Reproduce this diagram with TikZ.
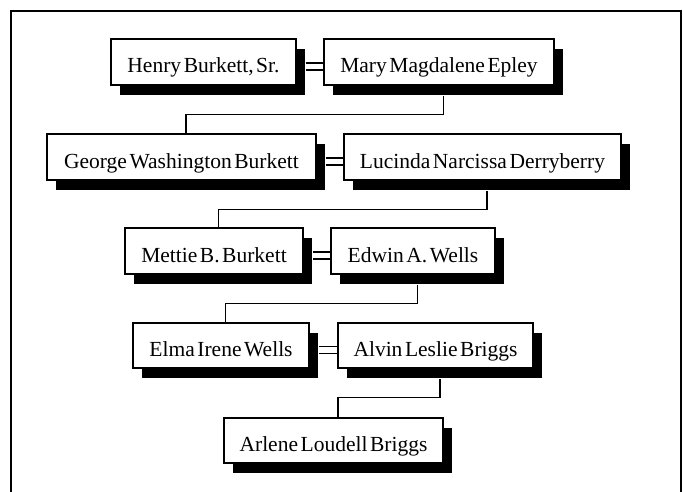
\documentclass[tikz,border=0pt]{standalone}
\usepackage{fontspec}
\setmainfont{Liberation Serif}
\usetikzlibrary{calc,shadows}
\newcommand{\boxfont}{\fontsize{21.5}{26}\selectfont\spaceskip=0.12em\relax}
\begin{document}
\begin{tikzpicture}[x=1pt,y=-1pt,
  person/.style={draw=black, line width=1.6pt, fill=white, minimum height=46pt,
    inner sep=0pt, text height=24pt, text depth=2pt, font=\boxfont,
    general shadow={fill=black, shadow xshift=9pt, shadow yshift=-10pt}},
  marriage/.style={line width=1.6pt, double=white, double distance=5.2pt},
  desc/.style={line width=1.3pt}]
\useasboundingbox (0,0) rectangle (683,492);
\draw[line width=2.6pt] (11,510) -- (11,11) -- (681,11) -- (681,510);

\node[person, minimum width=185pt] (henry) at (203.5,62) {Henry Burkett, Sr.};
\node[person, minimum width=230pt] (mary) at (439,62) {Mary Magdalene Epley};
\node[person, minimum width=269pt] (george) at (181.5,157) {George Washington Burkett};
\node[person, minimum width=277pt] (lucinda) at (482.5,157) {Lucinda Narcissa Derryberry};
\node[person, minimum width=178pt] (mettie) at (214,251) {Mettie B. Burkett};
\node[person, minimum width=164pt] (edwin) at (413,251) {Edwin A. Wells};
\node[person, minimum width=176pt, minimum height=45pt] (elma) at (221,345.5) {Elma Irene Wells};
\node[person, minimum width=195pt, minimum height=45pt] (alvin) at (435.5,345.5) {Alvin Leslie Briggs};
\node[person, minimum width=219pt, minimum height=45pt] (arlene) at (333.5,440.5) {Arlene Loudell Briggs};

\draw[marriage] ($(henry.east)+(9,4.5)$) -- ($(mary.west)+(0,4.5)$);
\draw[marriage] ($(george.east)+(9,4.5)$) -- ($(lucinda.west)+(0,4.5)$);
\draw[marriage] ($(mettie.east)+(9,4.5)$) -- ($(edwin.west)+(0,4.5)$);
\draw[marriage] ($(elma.east)+(9,4.5)$) -- ($(alvin.west)+(0,4.5)$);

\draw[desc] ($(mary.south)+(4.5,10)$) -- ++(0,19) -| ($(george.north)+(4.5,0)$);
\draw[desc] ($(lucinda.south)+(4.5,10)$) -- ++(0,19) -| ($(mettie.north)+(4.5,0)$);
\draw[desc] ($(edwin.south)+(4.5,10)$) -- ++(0,19) -| ($(elma.north)+(4.5,0)$);
\draw[desc] ($(alvin.south)+(4.5,10)$) -- ++(0,19) -| ($(arlene.north)+(4.5,0)$);
\end{tikzpicture}
\end{document}
